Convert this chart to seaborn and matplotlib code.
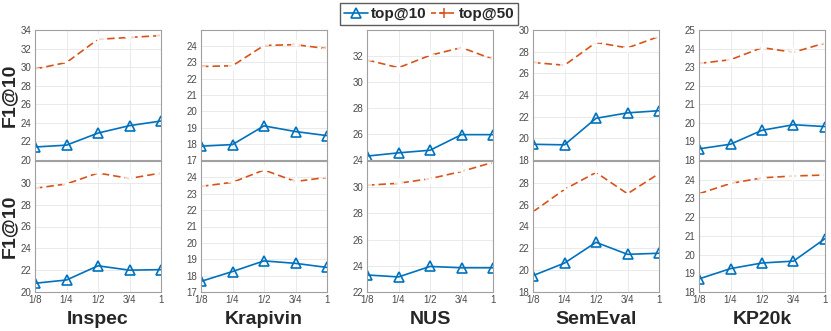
import matplotlib
matplotlib.use("Agg")
import matplotlib.pyplot as plt
import seaborn as sns
import numpy as np
from matplotlib.lines import Line2D

# data
fractions = ["1/8", "1/4", "1/2", "3/4", "1"]
datasets = ["Inspec", "Krapivin", "NUS", "SemEval", "KP20k"]

top10_upper = [
    [21.4, 21.6, 22.9, 23.7, 24.2],
    [17.85, 17.95, 19.1, 18.75, 18.5],
    [24.3, 24.55, 24.75, 25.95, 25.95],
    [19.45, 19.4, 21.85, 22.35, 22.55],
    [18.6, 18.85, 19.6, 19.9, 19.8],
]
top50_upper = [
    [29.8, 30.5, 33.0, 33.2, 33.4],
    [22.75, 22.8, 24.05, 24.1, 23.85],
    [31.7, 31.1, 32.05, 32.65, 31.75],
    [27.0, 26.75, 28.85, 28.35, 29.4],
    [23.2, 23.4, 24.05, 23.8, 24.3],
]
top10_lower = [
    [20.8, 21.1, 22.4, 22.0, 22.05],
    [17.65, 18.25, 18.9, 18.75, 18.5],
    [23.3, 23.15, 23.95, 23.85, 23.85],
    [19.5, 20.65, 22.55, 21.45, 21.55],
    [18.7, 19.25, 19.55, 19.65, 20.85],
]
top50_lower = [
    [29.5, 29.9, 30.9, 30.4, 30.9],
    [23.45, 23.7, 24.45, 23.75, 24.0],
    [30.15, 30.3, 30.65, 31.2, 31.9],
    [25.35, 27.4, 28.95, 27.0, 28.85],
    [23.25, 23.8, 24.1, 24.2, 24.25],
]

# axis ranges: (low, high, last labelled tick, step)
upper_axis = [(20, 34, 34, 2), (17, 25, 24, 1), (24, 34, 32, 2), (18, 30, 30, 2), (18, 25, 25, 1)]
lower_axis = [(20, 32, 30, 2), (17, 25, 24, 1), (22, 32, 30, 2), (18, 30, 28, 2), (18, 25, 24, 1)]

blue = "#0072BD"
orange = "#D95319"
dash = (0, (4.5, 2.4))

sns.set_style("white")
plt.rcParams["font.family"] = ["Liberation Sans", "DejaVu Sans"]

W, H = 831, 331
fig = plt.figure(figsize=(W / 100, H / 100), dpi=100)

lefts = [35, 201, 367, 533, 699]
ax_w = 126
x = np.arange(len(fractions))


def draw(ax, y10, y50, axis, show_x):
    sns.lineplot(x=x, y=y50, ax=ax, color=orange, lw=1.2, marker="+", markersize=7,
                 markeredgewidth=1.1, linestyle=dash)
    sns.lineplot(x=x, y=y10, ax=ax, color=blue, lw=1.2, marker="^", markersize=6.5,
                 markerfacecolor="none", markeredgecolor=blue, markeredgewidth=1.2)
    lo, hi, top, step = axis
    ax.set_ylim(lo, hi)
    ax.set_yticks(np.arange(lo, top + step / 2, step))
    ax.set_xlim(0, len(fractions) - 1)
    ax.set_xticks(x)
    ax.set_xticklabels(fractions if show_x else [])
    ax.grid(True, color="#e6e6e6", lw=0.6)
    ax.tick_params(direction="in", length=2.5, width=0.6, labelsize=7,
                   colors="#909090", labelcolor="#4a4a4a", pad=2.5)
    for s in ax.spines.values():
        s.set_color("#a0a0a0")
        s.set_linewidth(0.8)
    ax.set_xlabel("")
    ax.set_ylabel("")


for i, name in enumerate(datasets):
    ax_top = fig.add_axes([lefts[i] / W, 1 - 160 / H, ax_w / W, 130 / H])
    draw(ax_top, top10_upper[i], top50_upper[i], upper_axis[i], False)
    ax_bot = fig.add_axes([lefts[i] / W, 1 - 292 / H, ax_w / W, 131 / H])
    draw(ax_bot, top10_lower[i], top50_lower[i], lower_axis[i], True)
    ax_bot.set_xlabel(name, fontsize=14, fontweight="bold")
    ax_bot.xaxis.set_label_coords(0.5, -0.145)
    if i == 0:
        for a in (ax_top, ax_bot):
            a.set_ylabel("F1@10", fontsize=14, fontweight="bold")
            a.yaxis.set_label_coords(-0.135, 0.5)

handles = [
    Line2D([], [], color=blue, lw=1.2, marker="^", markersize=6.5,
           markerfacecolor="none", markeredgewidth=1.2),
    Line2D([], [], color=orange, lw=1.2, marker="+", markersize=7,
           markeredgewidth=1.1, linestyle=(0, (3, 2.4))),
]
fig.legend(handles, ["top@10", "top@50"], loc="upper center", ncol=2,
           bbox_to_anchor=(429 / W, 1.0), frameon=True, fancybox=False,
           edgecolor="#333333", prop={"weight": "bold", "size": 11},
           handlelength=1.6, handletextpad=0.2, columnspacing=0.3,
           borderpad=0.25, borderaxespad=0.2)

fig.savefig("out.png", dpi=100)
